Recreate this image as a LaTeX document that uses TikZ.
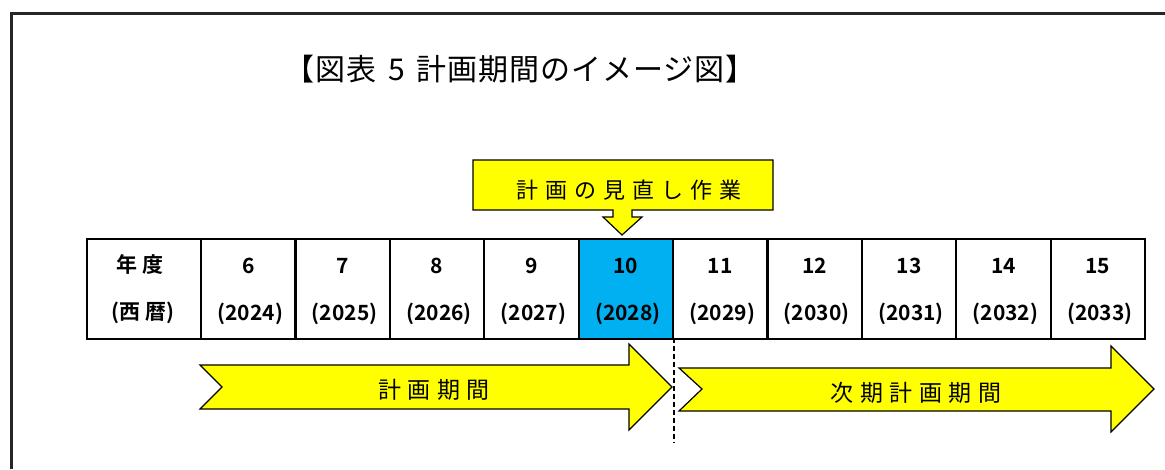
\documentclass[tikz,border=0pt]{standalone}
\usepackage{fontspec}
\setmainfont{Noto Sans CJK JP}
\newfontfamily\jpreg{Noto Sans CJK JP}
\newfontfamily\jpbold{Noto Sans CJK JP Bold}
\definecolor{ylw}{HTML}{FFFF00}
\definecolor{cyanbox}{HTML}{00B0F0}
\begin{document}
\begin{tikzpicture}[x=1pt,y=-1pt,
  cell/.style={draw=black,line width=2.2pt,minimum height=100pt,inner sep=0pt,anchor=north west},
  celltxt/.style={font=\jpbold\fontsize{21}{21}\selectfont,inner sep=0pt},
  bigarrow/.style={draw=black,line width=1.2pt,fill=ylw},
  arrowtxt/.style={font=\jpreg\addfontfeature{LetterSpace=28}\fontsize{23}{23}\selectfont,inner sep=0pt}]
\useasboundingbox (0,0) rectangle (1165,469);
% frame
\draw[line width=3pt,color=black!85] (11,469) -- (11,13) -- (1165,13);
% title
\node[font=\jpreg\addfontfeature{LetterSpace=3}\fontsize{30}{30}\selectfont,inner sep=0pt] (title) at (520,69) {【図表\hspace{12pt}5\hspace{12pt}計画期間のイメージ図】};
% callout
\draw[bigarrow] (473,160) -- (773,160) -- (773,210) -- (632,210) -- (632,217) -- (642,217) -- (622,235) -- (603,217) -- (613,217) -- (613,210) -- (473,210) -- cycle;
\node[arrowtxt,font=\jpreg\addfontfeature{LetterSpace=32}\fontsize{22}{22}\selectfont] (review) at (629,190) {計画の見直し作業};
% table
\node[cell,minimum width=114pt] (c0) at (86,238) {};
\node[celltxt] at (140,265) {年\hspace{6pt}度};
\node[celltxt] at (143,313) {(西\hspace{5pt}暦)};
\foreach \i/\n/\yr in {1/6/2024,2/7/2025,3/8/2026,4/9/2027,5/10/2028,6/11/2029,7/12/2030,8/13/2031,9/14/2032,10/15/2033}{
  \pgfmathsetmacro{\xl}{200+(\i-1)*94.4}
  \ifnum\i=5
    \node[cell,minimum width=94.4pt,fill=cyanbox] (c\i) at (\xl,238) {};
  \else
    \node[cell,minimum width=94.4pt] (c\i) at (\xl,238) {};
  \fi
  \node[celltxt] at ([yshift=23.5pt]c\i.center) {\n};
  \node[celltxt] at ([xshift=2pt,yshift=-25pt]c\i.center) {(\yr)};
}
% dashed divider
\coordinate (d1) at (674,338);
\coordinate (d2) at (674,443);
\draw[line width=2.5pt,dash pattern=on 5pt off 3pt] (d1) -- (d2);
% big arrows
\draw[bigarrow] (200,365) -- (629,365) -- (629,344) -- (672,387) -- (629,430) -- (629,409) -- (200,409) -- (222,387) -- cycle;
\node[arrowtxt] (a1) at (434,389.5) {計画期間};
\draw[bigarrow] (679,368) -- (1111,368) -- (1111,346) -- (1154,389) -- (1111,432) -- (1111,411) -- (679,411) -- (702,389) -- cycle;
\node[arrowtxt] (a2) at (916,393) {次期計画期間};
\end{tikzpicture}
\end{document}
